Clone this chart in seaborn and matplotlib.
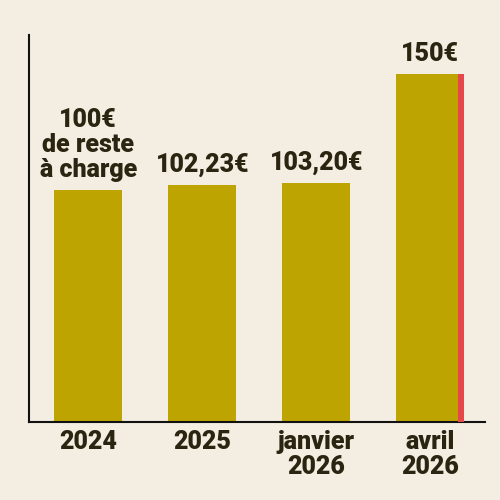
import pandas as pd
import seaborn as sns
import matplotlib.pyplot as plt
from matplotlib.patches import Rectangle

# données
categories = ['2024', '2025', 'janvier\n2026', 'avril\n2026']
values = [100, 102.23, 103.20, 150]
value_labels = ['100€\nde reste\nà charge', '102,23€', '103,20€', '150€']

bg = '#f4ede1'
gold = '#bea400'
red = '#e6474b'
ink = '#2a2511'

sns.set_theme(style='white')
plt.rcParams['font.family'] = ['Roboto', 'DejaVu Sans']

df = pd.DataFrame({'periode': categories, 'montant': values})

fig = plt.figure(figsize=(5, 5), dpi=100, facecolor=bg)
ax = fig.add_axes([0.058, 0.156, 0.912, 0.774])
ax.set_facecolor(bg)

sns.barplot(data=df, x='periode', y='montant', color=gold, width=0.6,
            saturation=1, linewidth=0, ax=ax)

# liseré rouge sur la dernière barre
last = ax.patches[-1]
strip = last.get_width() * 0.09
ax.add_patch(Rectangle((last.get_x() + last.get_width() - strip, 0), strip,
                       last.get_height(), color=red, lw=0, zorder=3))

# étiquettes de valeur
for p, lab in zip(ax.patches, value_labels):
    ax.annotate(lab, (p.get_x() + p.get_width() / 2, p.get_height()),
                xytext=(0, 6), textcoords='offset points',
                ha='center', va='bottom', fontsize=18, fontweight=900,
                color=ink, linespacing=1.05)

ax.set_xlim(-0.52, 3.48)
ax.set_ylim(0, 167)
ax.set_xlabel('')
ax.set_ylabel('')
ax.set_yticks([])
ax.tick_params(axis='x', length=0, pad=6)
for t in ax.get_xticklabels():
    t.set_fontsize(18)
    t.set_fontweight(900)
    t.set_color(ink)
    t.set_linespacing(1.05)

for s in ['top', 'right']:
    ax.spines[s].set_visible(False)
for s in ['left', 'bottom']:
    ax.spines[s].set_color('#111111')
    ax.spines[s].set_linewidth(1.5)

plt.savefig('out.png', dpi=100, facecolor=bg)
